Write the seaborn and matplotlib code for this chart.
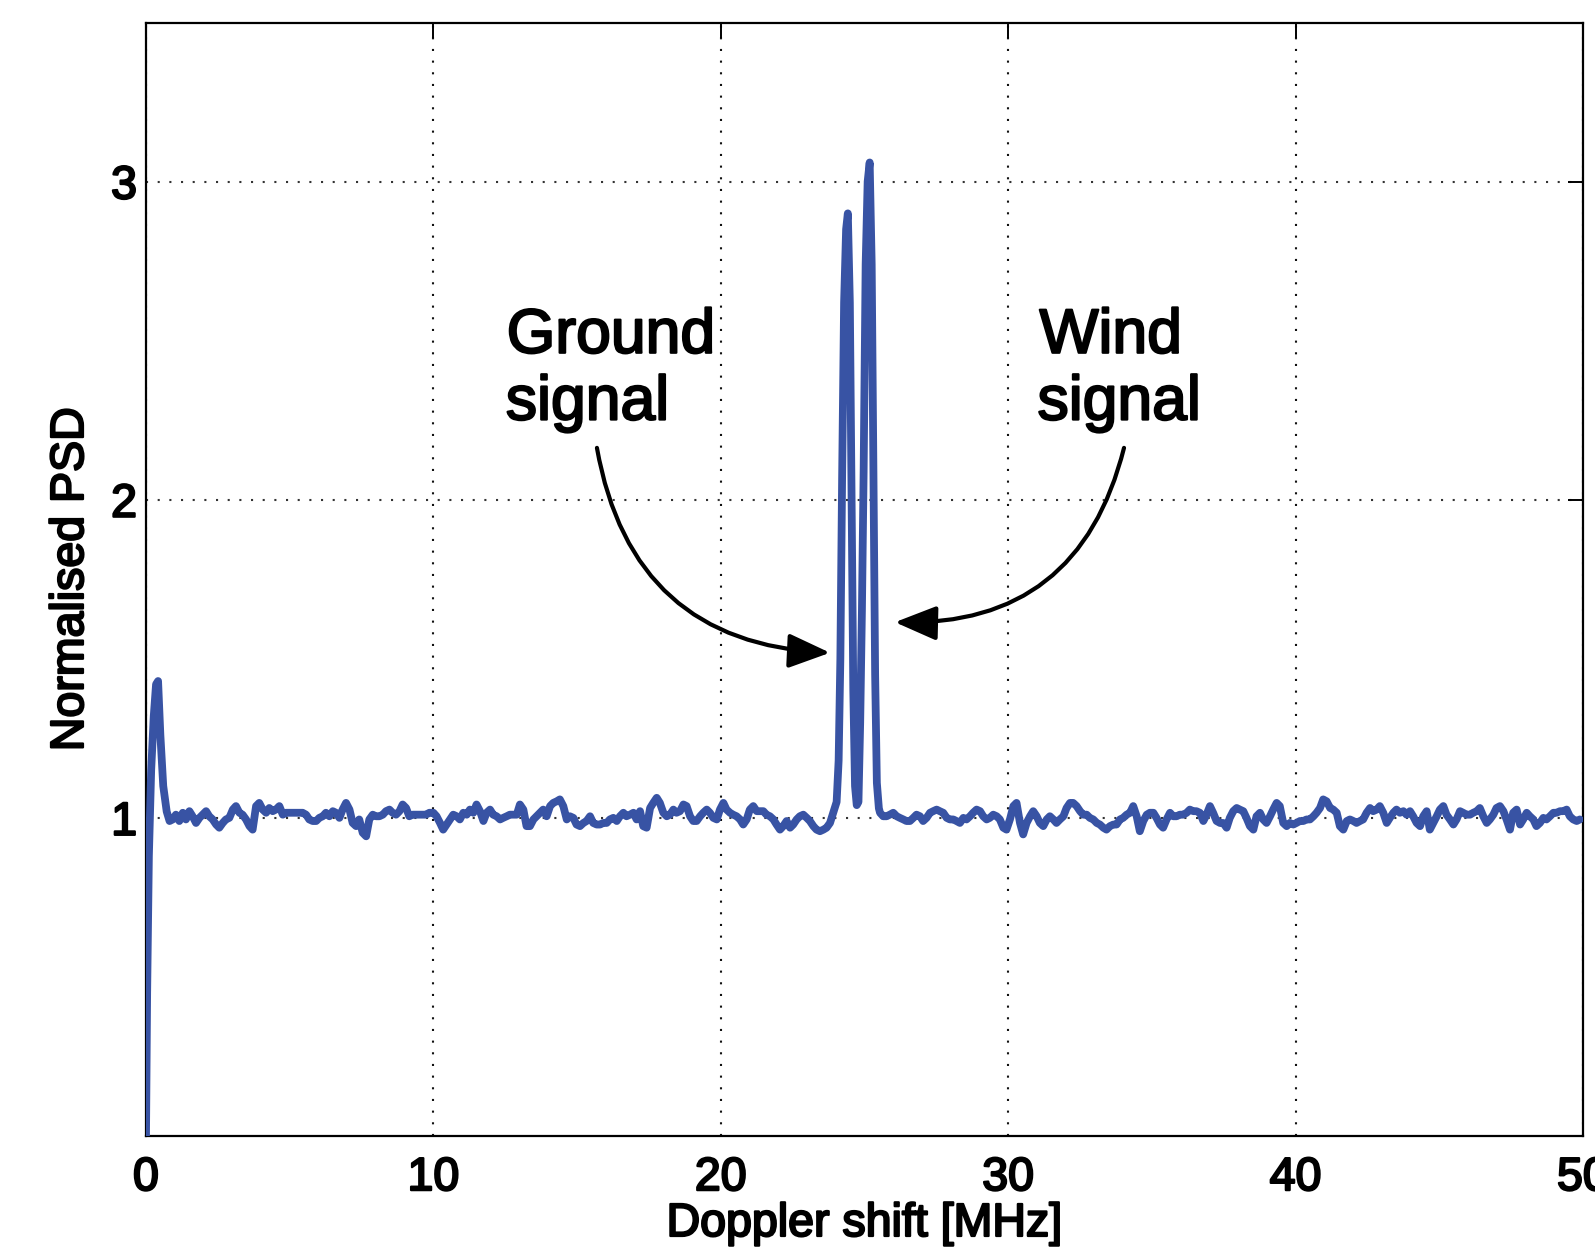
import numpy as np
import pandas as pd
import matplotlib
matplotlib.use("Agg")
import matplotlib.pyplot as plt
import matplotlib.patheffects as pe
from matplotlib.patches import FancyArrowPatch, ArrowStyle
import seaborn as sns

# ---- spectrum samples (Doppler shift in MHz, normalised PSD) ----
# DC leakage spike at the start of the spectrum
dc_freq = [0.00, 0.04, 0.10, 0.18, 0.27, 0.35, 0.42, 0.50, 0.60, 0.72, 0.82]
dc_psd = [0.00, 0.45, 0.88, 1.15, 1.32, 1.42, 1.43, 1.26, 1.10, 1.02, 0.99]

# noise floor below the echoes
band_a_freq = [
    0.93, 1.04, 1.16, 1.28, 1.39, 1.51, 1.62, 1.74, 1.86, 1.97, 2.09, 2.20, 2.32, 2.44, 2.55,
    2.67, 2.78, 2.90, 3.02, 3.13, 3.25, 3.36, 3.48, 3.60, 3.71, 3.83, 3.94, 4.06, 4.18, 4.29,
    4.41, 4.52, 4.64, 4.76, 4.87, 4.99, 5.22, 5.45, 5.57, 5.68, 5.80, 5.92, 6.03, 6.15, 6.26,
    6.38, 6.50, 6.61, 6.73, 6.84, 6.96, 7.08, 7.19, 7.31, 7.42, 7.54, 7.66, 7.77, 7.89, 8.00,
    8.12, 8.24, 8.35, 8.47, 8.58, 8.70, 8.82, 8.93, 9.05, 9.16, 9.28, 9.51, 9.74, 9.86, 10.00,
    10.11, 10.23, 10.34, 10.46, 10.58, 10.69, 10.81, 10.92, 11.04, 11.16, 11.27, 11.39, 11.50,
    11.62, 11.74, 11.85, 11.97, 12.08, 12.20, 12.32, 12.43, 12.55, 12.66, 12.90, 13.01, 13.13,
    13.24, 13.36, 13.48, 13.59, 13.71, 13.82, 13.94, 14.06, 14.17, 14.29, 14.40, 14.52, 14.64,
    14.75, 14.87, 14.98, 15.10, 15.22, 15.33, 15.45, 15.56, 15.68, 15.80, 15.91, 16.03, 16.14,
    16.26, 16.38, 16.49, 16.61, 16.72, 16.84, 16.96, 17.07, 17.19, 17.30, 17.42, 17.54, 17.65,
    17.77, 17.88, 18.00, 18.12, 18.23, 18.35, 18.46, 18.58, 18.70, 18.81, 18.93, 19.04, 19.16,
    19.28, 19.39, 19.51, 19.62, 19.74, 19.86, 19.97, 20.09, 20.20, 20.32, 20.43, 20.55, 20.67,
    20.78, 20.90, 21.01, 21.13, 21.25, 21.36, 21.48, 21.59, 21.71, 21.83, 21.94, 22.06, 22.17,
    22.29, 22.41, 22.52, 22.64, 22.75, 22.87, 22.99, 23.10, 23.22, 23.33, 23.45, 23.57, 23.68,
    23.80, 23.91,
]
band_a_psd = [
    0.995, 1.010, 0.990, 1.016, 0.995, 1.021, 1.005, 0.984, 1.000, 1.010, 1.021, 1.005, 0.995, 0.979, 0.969,
    0.984, 0.995, 1.000, 1.026, 1.037, 1.016, 1.010, 0.995, 0.974, 0.963, 1.037, 1.047, 1.026, 1.016, 1.031,
    1.021, 1.026, 1.037, 1.010, 1.016, 1.016, 1.016, 1.016, 1.010, 0.995, 0.990, 0.990, 1.000, 1.005, 1.016,
    1.005, 1.021, 1.016, 1.000, 1.026, 1.047, 1.026, 0.984, 0.974, 0.995, 0.953, 0.942, 0.995, 1.010, 1.005,
    1.005, 1.010, 1.021, 1.026, 1.016, 1.010, 1.021, 1.042, 1.031, 1.005, 1.010, 1.010, 1.010, 1.016, 1.016,
    1.005, 0.984, 0.963, 0.979, 0.995, 1.010, 1.005, 0.995, 1.016, 1.010, 1.026, 1.016, 1.042,
    1.021, 0.990, 1.016, 1.026, 1.010, 1.005, 0.995, 1.000, 1.005, 1.010, 1.010, 1.042, 1.026,
    0.974, 0.974, 0.995, 1.005, 1.016, 1.026, 1.005, 1.037, 1.047, 1.052, 1.058, 1.037, 0.995,
    1.005, 1.000, 0.979, 0.974, 0.984, 0.990, 1.005, 0.984, 0.979, 0.979, 0.984, 0.984, 0.995,
    1.000, 0.990, 1.005, 1.016, 1.005, 1.010, 1.016, 0.995, 1.021, 0.974, 0.969, 1.031, 1.047,
    1.063, 1.047, 1.016, 1.005, 1.010, 1.026, 1.016, 1.021, 1.042, 1.037, 1.005, 0.990, 0.990,
    1.005, 1.016, 1.026, 1.016, 1.000, 0.995, 1.026, 1.047, 1.026, 1.016, 1.010, 1.005, 0.995,
    0.979, 0.995, 1.026, 1.037, 1.021, 1.021, 1.021, 1.010, 1.005, 0.995, 0.979, 0.963, 0.974,
    0.990, 0.969, 0.979, 0.995, 1.005, 1.010, 1.000, 0.990, 0.974, 0.963, 0.958, 0.963, 0.969,
    0.984, 1.016,
]

# ground and wind echoes
echo_freq = [24.03, 24.10, 24.16, 24.22, 24.29, 24.36, 24.42, 24.49, 24.55, 24.61, 24.67, 24.73,
             24.79, 24.85, 24.91, 24.97, 25.04, 25.11, 25.18, 25.25, 25.31, 25.37, 25.43, 25.50]
echo_psd = [1.05, 1.18, 1.50, 2.06, 2.62, 2.85, 2.90, 2.62, 2.00, 1.40, 1.10, 1.04,
            1.05, 1.30, 1.65, 2.09, 2.74, 3.00, 3.06, 2.74, 2.09, 1.45, 1.11, 1.03]

# noise floor above the echoes
band_b_freq = [
    25.54, 25.65, 25.77, 25.88, 26.00, 26.12, 26.23, 26.35, 26.46, 26.58, 26.70, 26.81, 26.93,
    27.04, 27.16, 27.28, 27.39, 27.51, 27.62, 27.74, 27.86, 27.97, 28.09, 28.20, 28.32, 28.44,
    28.55, 28.67, 28.78, 28.90, 29.02, 29.13, 29.25, 29.36, 29.48, 29.60, 29.71, 29.83, 29.94,
    30.06, 30.18, 30.29, 30.41, 30.52, 30.64, 30.76, 30.87, 30.99, 31.10, 31.22, 31.34, 31.45,
    31.57, 31.68, 31.80, 31.92, 32.03, 32.15, 32.26, 32.38, 32.50, 32.61, 32.73, 32.84, 32.96,
    33.08, 33.19, 33.31, 33.42, 33.54, 33.66, 33.77, 33.89, 34.00, 34.12, 34.24, 34.35, 34.47,
    34.58, 34.70, 34.82, 34.93, 35.05, 35.16, 35.28, 35.39, 35.51, 35.63, 35.74, 35.86, 35.97,
    36.09, 36.21, 36.32, 36.44, 36.55, 36.67, 36.79, 36.90, 37.02, 37.13, 37.25, 37.37, 37.48,
    37.60, 37.71, 37.83, 37.95, 38.06, 38.18, 38.29, 38.41, 38.53, 38.64, 38.76, 38.87, 38.99,
    39.11, 39.22, 39.34, 39.45, 39.57, 39.69, 39.80, 39.92, 40.03, 40.15, 40.27, 40.38, 40.50,
    40.62, 40.73, 40.85, 40.96, 41.08, 41.20, 41.31, 41.43, 41.54, 41.66, 41.78, 41.89, 42.01,
    42.12, 42.24, 42.35, 42.47, 42.59, 42.70, 42.82, 42.93, 43.05, 43.17, 43.28, 43.40, 43.51,
    43.63, 43.75, 43.86, 43.98, 44.09, 44.21, 44.33, 44.44, 44.56, 44.67, 44.79, 44.91, 45.02,
    45.14, 45.25, 45.37, 45.49, 45.60, 45.72, 45.83, 45.95, 46.07, 46.18, 46.30, 46.41, 46.53,
    46.65, 46.76, 46.88, 46.99, 47.11, 47.23, 47.34, 47.46, 47.57, 47.69, 47.81, 47.92, 48.04,
    48.15, 48.27, 48.38, 48.50, 48.62, 48.73, 48.85, 48.97, 49.08, 49.20, 49.31, 49.43, 49.54,
    49.66, 49.78, 49.89,
]
band_b_psd = [
    1.016, 1.005, 1.005, 1.010, 1.016, 1.005, 1.000, 0.995, 0.990, 0.990, 1.000, 1.010, 1.005,
    0.990, 1.000, 1.016, 1.021, 1.026, 1.021, 1.016, 1.000, 0.995, 0.995, 0.990, 0.984, 1.000,
    0.995, 1.005, 1.016, 1.026, 1.021, 1.005, 0.995, 1.000, 1.010, 1.005, 0.995, 0.969, 0.963,
    0.995, 1.037, 1.047, 0.984, 0.948, 0.984, 1.005, 1.021, 1.005, 0.984, 0.974, 0.995, 1.005,
    0.995, 0.984, 0.995, 1.005, 1.031, 1.047, 1.047, 1.037, 1.021, 1.010, 1.010, 1.000, 0.995,
    0.984, 0.979, 0.969, 0.963, 0.974, 0.979, 0.979, 0.995, 1.000, 1.010, 1.016, 1.037, 1.005,
    0.958, 0.990, 1.010, 1.016, 1.016, 1.000, 0.979, 0.969, 0.995, 1.016, 1.005, 1.005, 1.010,
    1.010, 1.016, 1.026, 1.021, 1.021, 1.016, 0.990, 1.010, 1.037, 1.016, 0.990, 0.984, 0.984,
    0.969, 1.000, 1.021, 1.031, 1.026, 1.021, 1.000, 0.974, 0.963, 1.005, 1.016, 0.995, 0.984,
    1.005, 1.026, 1.047, 1.037, 0.984, 0.974, 0.984, 0.979, 0.984, 0.990, 0.990, 0.995, 0.995,
    1.005, 1.016, 1.031, 1.058, 1.052, 1.031, 1.026, 1.016, 0.974, 0.963, 0.990, 0.995, 0.990,
    0.984, 0.990, 0.995, 1.016, 1.031, 1.021, 1.026, 1.037, 1.016, 0.984, 1.000, 1.016, 1.026,
    1.016, 1.021, 1.010, 1.021, 1.005, 0.984, 0.974, 1.005, 1.021, 0.963, 0.984, 1.005, 1.026,
    1.037, 1.010, 0.995, 0.979, 0.995, 1.021, 1.016, 1.010, 1.010, 1.016, 1.021, 1.031, 1.005,
    0.984, 0.995, 1.010, 1.031, 1.037, 1.021, 0.995, 0.963, 1.016, 1.026, 0.979, 0.995, 1.016,
    1.005, 0.995, 0.974, 0.984, 1.000, 0.995, 1.005, 1.016, 1.016, 1.021, 1.021, 1.026, 1.005,
    0.995, 0.990, 0.995,
]

x_ticks = [0, 10, 20, 30, 40, 50]
y_ticks = [1, 2, 3]
x_label = "Doppler shift [MHz]"
y_label = "Normalised PSD"

spectrum = pd.DataFrame({
    x_label: np.concatenate([dc_freq, band_a_freq, echo_freq, band_b_freq]),
    y_label: np.concatenate([dc_psd, band_a_psd, echo_psd, band_b_psd]),
})

sns.set_theme(style="white")
plt.rcParams["font.family"] = ["Liberation Sans", "DejaVu Sans"]

LINE_BLUE = "#3853a4"
heavy = [pe.withStroke(linewidth=1.6, foreground="black")]

fig = plt.figure(figsize=(15.95, 12.54), dpi=100)
fig.patch.set_facecolor("white")
ax = fig.add_axes([146 / 1595, 118 / 1254, 1437 / 1595, 1113.5 / 1254])
ax.set_facecolor("white")

sns.lineplot(data=spectrum, x=x_label, y=y_label, ax=ax, color=LINE_BLUE,
             linewidth=5.6, sort=False, estimator=None, zorder=3)

ax.set_xlim(0, 50)
ax.set_ylim(0, 3.5)
ax.set_xticks(x_ticks)
ax.set_yticks(y_ticks)
ax.set_xticklabels([str(t) for t in x_ticks])
ax.set_yticklabels([str(t) for t in y_ticks])

# dotted grid
ax.xaxis.grid(True, linestyle=(0, (1, 4.6)), linewidth=1.5, color="#111111", zorder=1)
ax.yaxis.grid(True, linestyle=(0, (1, 4.6)), linewidth=1.5, color="#333333", zorder=1)
ax.set_axisbelow(True)

for side in ["left", "right", "top", "bottom"]:
    ax.spines[side].set_visible(True)
    ax.spines[side].set_color("black")
    ax.spines[side].set_linewidth(1.6)

ax.tick_params(axis="both", which="major", direction="in", length=10.8, width=1.4,
               color="black", top=True, right=True, labelsize=33.5, labelcolor="black")
ax.tick_params(axis="x", pad=14.5)
ax.tick_params(axis="y", pad=6.5)
for lab in ax.get_xticklabels() + ax.get_yticklabels():
    lab.set_path_effects(heavy)

ax.set_xlabel(x_label, fontsize=33.5, color="black", va="baseline", path_effects=heavy)
ax.xaxis.set_label_coords(0.5, -0.0898)
ax.set_ylabel(y_label, fontsize=33.5, color="black", va="center", path_effects=heavy)
ax.yaxis.set_label_coords(-0.0522, 0.5)

# echo annotations
for x, y, s in [(12.55, 2.462, "Ground"), (12.52, 2.252, "signal"),
                (31.09, 2.462, "Wind"), (31.02, 2.252, "signal")]:
    ax.text(x, y, s, fontsize=45, color="black", ha="left", va="baseline",
            path_effects=heavy, zorder=5)

head = ArrowStyle("-|>", head_length=25.6, head_width=10.6)
for start, end, rad in [((15.69, 2.163), (23.8, 1.519), 0.4),
                        ((34.03, 2.163), (26.06, 1.615), -0.4)]:
    ax.add_patch(FancyArrowPatch(posA=start, posB=end, arrowstyle=head,
                                 connectionstyle=f"arc3,rad={rad}", mutation_scale=1,
                                 linewidth=3, color="black", shrinkA=0, shrinkB=0,
                                 zorder=6))

fig.savefig("out.png", dpi=100, facecolor="white")
